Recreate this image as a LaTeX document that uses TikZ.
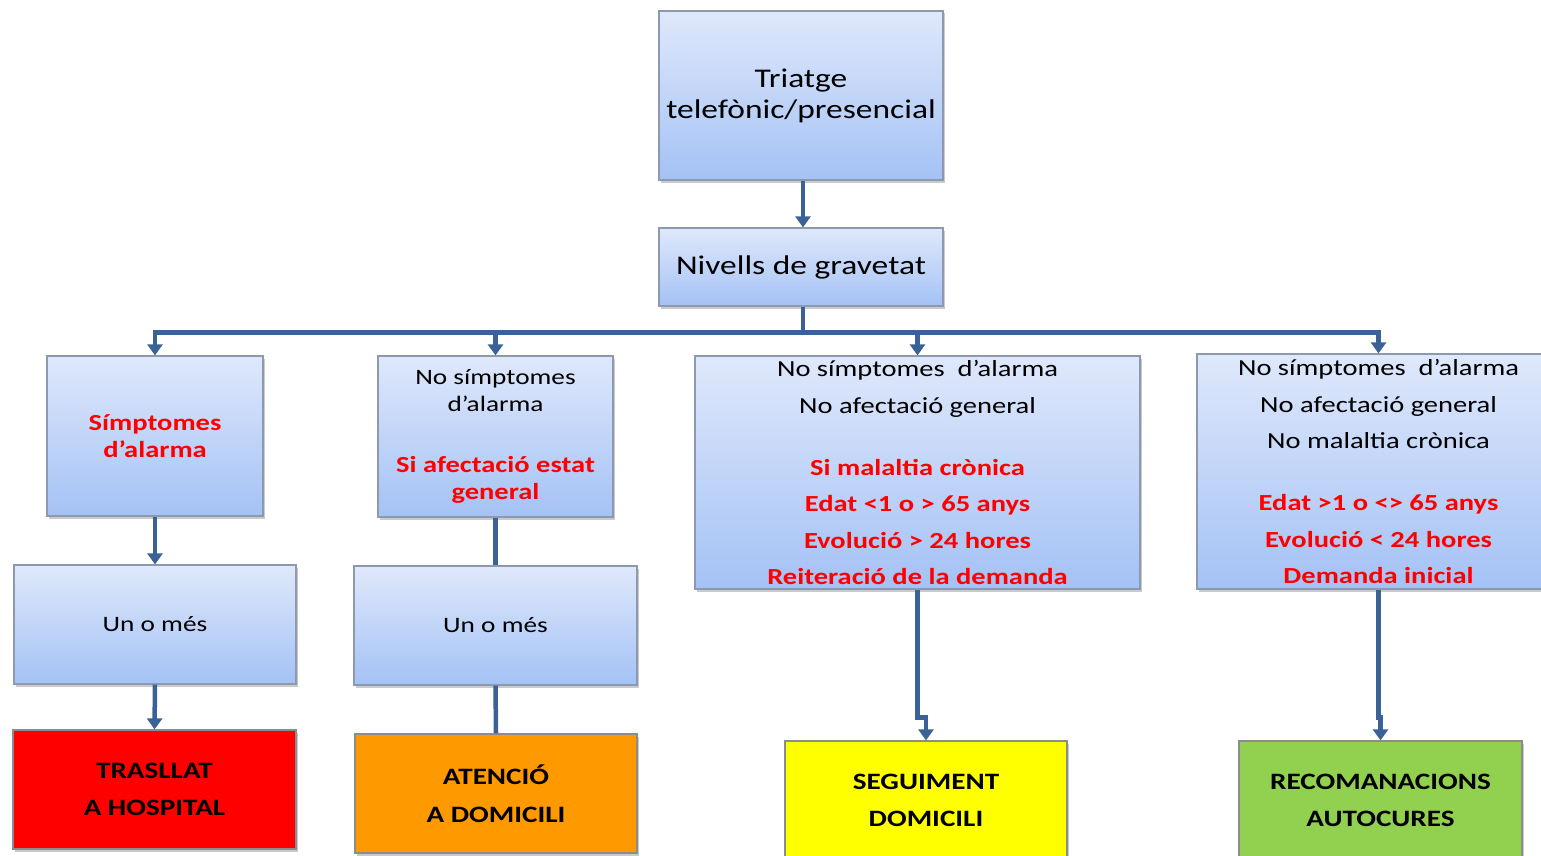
\documentclass[tikz,border=0pt]{standalone}
\usepackage{fontspec}
\setmainfont{Carlito}[FakeStretch=1.24]
\usetikzlibrary{arrows.meta,shadows}
\definecolor{boxtop}{HTML}{DFE8FB}
\definecolor{boxbot}{HTML}{A4C2F5}
\definecolor{boxborder}{HTML}{8C99AE}
\definecolor{linecol}{HTML}{3A6296}
\definecolor{redtxt}{HTML}{FF0000}
\definecolor{redbox}{HTML}{FF0000}
\definecolor{orangebox}{HTML}{FF9900}
\definecolor{yellowbox}{HTML}{FFFF00}
\definecolor{greenbox}{HTML}{92D050}
\newcommand{\rb}[1]{{\fontsize{23}{10}\selectfont\color{redtxt}\bfseries #1}}
\tikzset{
  gbox/.style={draw=boxborder, line width=1.2pt, top color=boxtop, bottom color=boxbot,
    drop shadow={shadow xshift=2pt, shadow yshift=-2.5pt, opacity=0.35, fill=black!60},
    inner sep=0pt, align=center, text=black},
  cbox/.style={draw=black!45, line width=1.2pt, fill=#1,
    drop shadow={shadow xshift=2pt, shadow yshift=-2.5pt, opacity=0.35, fill=black!60},
    inner sep=0pt, align=center, text=black,
    font=\fontsize{23.5}{37.5}\selectfont\bfseries},
  conn/.style={draw=linecol, line width=4.5pt},
  arr/.style={conn, -{Triangle[width=15pt,length=11pt]}},
}
\begin{document}
\begin{tikzpicture}[x=1pt,y=-1pt]
\useasboundingbox (0,0) rectangle (1541,856);

\node[gbox, minimum width=284pt, minimum height=169pt,
  font=\fontsize{27}{31}\selectfont] (top) at (801,95.5)
  {Triatge\\telefònic/presencial};
\node[gbox, minimum width=284pt, minimum height=78pt,
  font=\fontsize{27}{31}\selectfont] (niv) at (801,267) {Nivells de gravetat};

\node[gbox, minimum width=216pt, minimum height=160pt,
  font=\fontsize{22}{27}\selectfont] (b1) at (155,436)
  {\rb{Símptomes}\\\rb{d’alarma}};
\node[gbox, minimum width=235pt, minimum height=161pt,
  font=\fontsize{22}{27}\selectfont] (b2) at (495.5,436.5)
  {No símptomes\\d’alarma\\[34pt]\rb{Si afectació estat}\\\rb{general}};
\node[gbox, minimum width=445pt, minimum height=233pt,
  font=\fontsize{23}{36.5}\selectfont] (b3) at (917.5,472.5)
  {No símptomes \ d’alarma\\No afectació general\\[25.5pt]
   \rb{Si malaltia crònica}\\
   \rb{Edat <1 o > 65 anys}\\
   \rb{Evolució > 24 hores}\\
   \rb{Reiteració de la demanda}};
\node[gbox, minimum width=363pt, minimum height=235pt,
  font=\fontsize{23}{36.5}\selectfont] (b4) at (1378.5,471.5)
  {No símptomes \ d’alarma\\No afectació general\\No malaltia crònica\\[25.5pt]
   \rb{Edat >1 o <> 65 anys}\\
   \rb{Evolució < 24 hores}\\
   \rb{Demanda inicial}};

\node[gbox, minimum width=282pt, minimum height=119pt,
  font=\fontsize{22}{27}\selectfont] (u1) at (155,624.5) {Un o més};
\node[gbox, minimum width=283pt, minimum height=119pt,
  font=\fontsize{22}{27}\selectfont] (u2) at (495.5,625.5) {Un o més};

\node[cbox=redbox, minimum width=283pt, minimum height=119pt] (r1) at (154.5,789.5) {TRASLLAT\\A HOSPITAL};
\node[cbox=orangebox, minimum width=282pt, minimum height=119pt] (r2) at (496,793.5) {ATENCIÓ\\A DOMICILI};
\node[cbox=yellowbox, minimum width=282pt, minimum height=119pt] (r3) at (926,800.5) {SEGUIMENT\\DOMICILI};
\node[cbox=greenbox, minimum width=283pt, minimum height=119pt] (r4) at (1380.5,800.5) {RECOMANACIONS\\AUTOCURES};

\draw[arr] ([xshift=2pt]top.south) -- ([xshift=2pt]niv.north);
\draw[conn] ([xshift=2pt]niv.south) -- ++(0,26) coordinate (bus);
\draw[arr] (bus) -| (b1.north);
\draw[arr] (bus) -| (b2.north);
\draw[arr] (bus) -| (b3.north);
\draw[arr] (bus) -| (b4.north);

\draw[arr] (b1.south) -- (u1.north);
\draw[arr] (u1.south) -- (r1.north);
\draw[conn] (b2.south) -- (u2.north);
\draw[conn] (u2.south) -- (r2.north);
\draw[arr] (b3.south) -- ++(0,128) -| (r3.north);
\draw[arr] (b4.south) -- ++(0,128) -| (r4.north);
\end{tikzpicture}
\end{document}
